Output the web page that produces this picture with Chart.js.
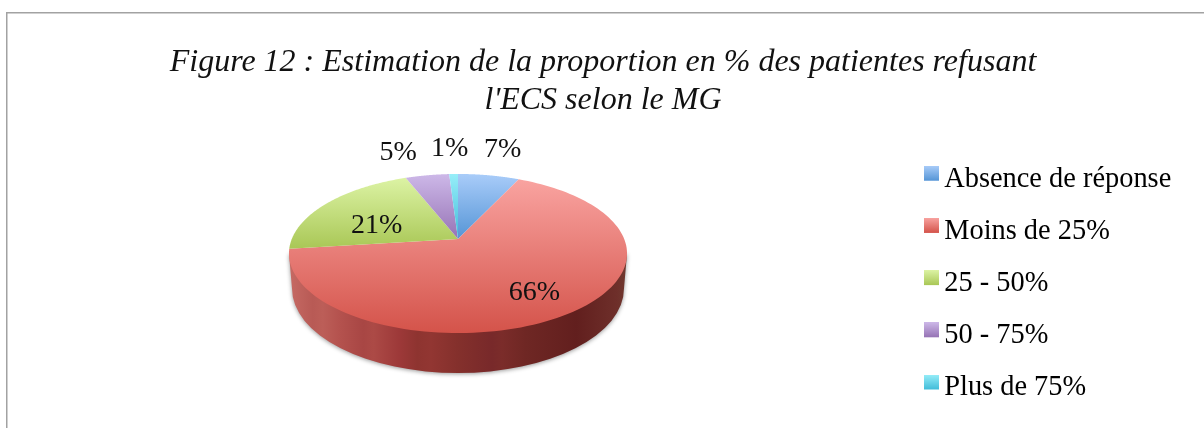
<!DOCTYPE html>
<html>
<head>
<meta charset="utf-8">
<style>html,body{margin:0;padding:0;background:#fff}canvas{display:block}</style>
<script src="https://cdn.jsdelivr.net/npm/chart.js@4/dist/chart.umd.js"></script>
</head>
<body>
<canvas id="c" width="1204" height="428"></canvas>
<script>
const titleLines = ["Figure 12 : Estimation de la proportion en % des patientes refusant", "l'ECS selon le MG"];
const categories = ["Absence de réponse", "Moins de 25%", "25 - 50%", "50 - 75%", "Plus de 75%"];
const values = [7, 66, 21, 5, 1];
const shadeLight = ["#a9ccf9", "#f9a3a0", "#dcf3a4", "#cdb8e8", "#97eef9"];
const shadeDark = ["#5595d6", "#d4534a", "#a9c756", "#9673b5", "#42bcd9"];
const wallStops = [[0,"#c66a64"],[0.07,"#b85a55"],[0.1,"#bc5e58"],[0.15,"#b4524e"],[0.22,"#a84644"],[0.25,"#ac4a46"],[0.33,"#9c3838"],[0.38,"#8e3430"],[0.42,"#923632"],[0.5,"#84302c"],[0.6,"#78292a"],[0.63,"#7b2c2a"],[0.7,"#6f2724"],[0.85,"#621f1e"],[0.97,"#6e2f2a"],[1,"#70392f"]];
const labelRadius = [1, 0.6, 0.6, 1, 1];
const labelNudge = [[14,-26],[12,13],[0,9],[-29,-23],[-4,-25]];

// projective view of the pie's disc
const TILT = 0.1824, SQUASH = 0.4627, DEPTH = 37, WALL_SHRINK = 0.982, WALL_RY = 0.5;
const LEGEND_FONT = 28.4, LEGEND_ROW = 52.2, LEGEND_GAP = LEGEND_ROW - LEGEND_FONT;
function project(arc, angle, r) {
  const u = r * Math.cos(angle), v = r * Math.sin(angle), d = 1 - TILT * v;
  return { x: arc.x + arc.outerRadius * u / d, y: arc.y + arc.outerRadius * SQUASH * v / d };
}
function swatch(i) {
  const cv = document.createElement('canvas'); cv.width = 19; cv.height = 27;
  const g = cv.getContext('2d'), lg = g.createLinearGradient(0, 0, 0, 15);
  lg.addColorStop(0, shadeLight[i]); lg.addColorStop(1, shadeDark[i]);
  g.fillStyle = lg; g.fillRect(4, 0, 15, 15);
  return cv;
}
const pie3d = {
  id: 'pie3d',
  beforeDraw(chart) {
    const ctx = chart.ctx;
    ctx.save();
    ctx.strokeStyle = '#a2a2a2'; ctx.lineWidth = 1.5;
    ctx.beginPath(); ctx.moveTo(6.75, 428); ctx.lineTo(6.75, 12.75); ctx.lineTo(1204, 12.75); ctx.stroke();
    ctx.restore();
  },
  afterLayout(chart) {
    const a = chart.chartArea;
    a.left = 292; a.right = 624; a.top = 73; a.bottom = 405; a.width = 332; a.height = 332;
    const l = chart.legend;
    l.left = 929 - LEGEND_GAP; l.right = 1204; l.top = 165 - LEGEND_GAP; l.bottom = 900;
    const t = chart.titleBlock; t.left = 0; t.right = 1206;
  },
  beforeDatasetsDraw(chart) {
    const ctx = chart.ctx, arcs = chart.getDatasetMeta(0).data, a0 = arcs[0];
    const cx = a0.x, R = a0.outerRadius, K = R * SQUASH;
    const wideR = R / Math.sqrt(1 - TILT * TILT);
    const widestY = a0.y + K * TILT / (1 - TILT * TILT);
    const frontY = a0.y + K / (1 - TILT);
    const lowRx = wideR * WALL_SHRINK, lowRy = wideR * WALL_RY;
    const lowY = frontY + DEPTH + 3 - lowRy;
    // side wall
    ctx.save();
    const wg = ctx.createLinearGradient(cx - wideR, 0, cx + wideR, 0);
    wallStops.forEach(s => wg.addColorStop(s[0], s[1]));
    ctx.fillStyle = wg;
    ctx.shadowColor = 'rgba(0,0,0,0.4)'; ctx.shadowBlur = 4; ctx.shadowOffsetY = 1;
    ctx.beginPath();
    ctx.moveTo(cx - wideR, widestY);
    ctx.lineTo(cx - lowRx, lowY);
    ctx.ellipse(cx, lowY, lowRx, lowRy, 0, Math.PI, 0, true);
    ctx.lineTo(cx + wideR, widestY);
    ctx.closePath(); ctx.fill();
    ctx.restore();
    // top surface, each slice from the library's own arc angles
    arcs.forEach((arc, i) => {
      const pts = [project(arc, 0, 0)], n = 120;
      for (let s = 0; s <= n; s++) pts.push(project(arc, arc.startAngle + (arc.endAngle - arc.startAngle) * s / n, 1));
      const ys = pts.map(p => p.y);
      const lg = ctx.createLinearGradient(0, Math.min(...ys), 0, Math.max(...ys));
      lg.addColorStop(0, shadeLight[i]); lg.addColorStop(1, shadeDark[i]);
      ctx.fillStyle = lg;
      ctx.beginPath();
      pts.forEach((p, j) => j ? ctx.lineTo(p.x, p.y) : ctx.moveTo(p.x, p.y));
      ctx.closePath(); ctx.fill();
    });
    return false;
  },
  afterDraw(chart) {
    const ctx = chart.ctx, arcs = chart.getDatasetMeta(0).data;
    ctx.save();
    ctx.font = "28px 'Liberation Serif'";
    ctx.fillStyle = '#111'; ctx.textAlign = 'center'; ctx.textBaseline = 'middle';
    arcs.forEach((arc, i) => {
      const p = project(arc, (arc.startAngle + arc.endAngle) / 2, labelRadius[i]);
      ctx.fillText(values[i] + '%', p.x + labelNudge[i][0], p.y + labelNudge[i][1]);
    });
    ctx.restore();
  }
};
new Chart(document.getElementById('c'), {
  type: 'pie',
  data: { labels: categories, datasets: [{ data: values, borderWidth: 0, radius: 166.2, backgroundColor: shadeDark }] },
  plugins: [pie3d],
  options: {
    responsive: false, animation: false, devicePixelRatio: 1,
    plugins: {
      tooltip: { enabled: false },
      title: {
        display: true, text: titleLines, color: '#111', align: 'center',
        font: { family: "'Liberation Serif'", style: 'italic', weight: 'normal', size: 32, lineHeight: 1.1875 },
        padding: { top: 44, bottom: 8 }
      },
      legend: {
        display: true, position: 'right', align: 'start', fullSize: true,
        labels: {
          color: '#111', font: { family: "'Liberation Serif'", size: LEGEND_FONT },
          usePointStyle: true, pointStyleWidth: 1, padding: LEGEND_GAP,
          generateLabels: () => categories.map((t, i) => ({ text: t, pointStyle: swatch(i), hidden: false, index: i, datasetIndex: 0, lineWidth: 0 }))
        }
      }
    }
  }
});
</script>
</body>
</html>
